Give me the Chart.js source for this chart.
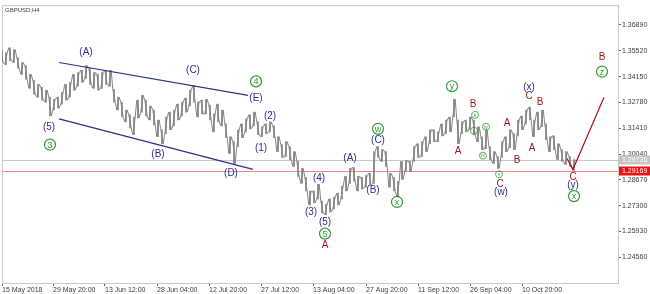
<!DOCTYPE html>
<html>
<head>
<meta charset="utf-8">
<script src="https://cdn.jsdelivr.net/npm/chart.js@4.4.1/dist/chart.umd.min.js"></script>
<style>
  html, body { margin: 0; padding: 0; background: #fff; }
  .wrap { width: 650px; height: 294px; position: relative; }
</style>
</head>
<body>
<div class="wrap"><canvas id="chart"></canvas></div>
<script>
// GBPUSD H4, one entry per traced bar (high / low)
const highs = [
  1.3553, 1.3542, 1.3568, 1.3558, 1.3516, 1.3490, 1.3474, 1.3427, 1.3395, 1.3374,
  1.3358, 1.3343, 1.3306, 1.3295, 1.3306, 1.3332, 1.3374, 1.3385, 1.3427, 1.3437,
  1.3448, 1.3474, 1.3458, 1.3437, 1.3427, 1.3437, 1.3448, 1.3448, 1.3348, 1.3306,
  1.3280, 1.3238, 1.3212, 1.3201, 1.3290, 1.3316, 1.3290, 1.3259, 1.3238, 1.3185,
  1.3133, 1.3201, 1.3227, 1.3238, 1.3269, 1.3280, 1.3301, 1.3343, 1.3369, 1.3280,
  1.3290, 1.3295, 1.3264, 1.3217, 1.3269, 1.3238, 1.3164, 1.3096, 1.3070, 1.3133,
  1.3164, 1.3191, 1.3212, 1.3227, 1.3175, 1.3149, 1.3164, 1.3175, 1.3154, 1.3096,
  1.3054, 1.3070, 1.3044, 1.3017, 1.2965, 1.2928, 1.2881, 1.2808, 1.2808, 1.2844,
  1.2755, 1.2739, 1.2766, 1.2776, 1.2797, 1.2834, 1.2886, 1.2928, 1.2933, 1.2886,
  1.2881, 1.2891, 1.2902, 1.3017, 1.3044, 1.3028, 1.3017, 1.2902, 1.2881, 1.2860,
  1.2965, 1.2970, 1.2965, 1.3044, 1.3059, 1.3070, 1.3096, 1.3133, 1.3133, 1.3122,
  1.3164, 1.3185, 1.3201, 1.3295, 1.3185, 1.3175, 1.3185, 1.3201, 1.3185, 1.3149,
  1.3096, 1.3133, 1.3044, 1.3017, 1.2991, 1.3070, 1.3096, 1.3133, 1.3112, 1.3185,
  1.3206, 1.3238, 1.3253, 1.3185, 1.3227, 1.3238, 1.3164, 1.3096, 1.3101, 1.3059,
  1.3028, 1.3017, 1.2991, 1.2975
];
const lows = [
  1.3490, 1.3479, 1.3500, 1.3490, 1.3458, 1.3427, 1.3400, 1.3353, 1.3322, 1.3306,
  1.3290, 1.3280, 1.3206, 1.3238, 1.3248, 1.3269, 1.3290, 1.3306, 1.3343, 1.3364,
  1.3385, 1.3406, 1.3374, 1.3353, 1.3343, 1.3353, 1.3374, 1.3364, 1.3280, 1.3238,
  1.3201, 1.3175, 1.3143, 1.3107, 1.3196, 1.3227, 1.3206, 1.3185, 1.3159, 1.3096,
  1.3059, 1.3112, 1.3133, 1.3154, 1.3185, 1.3206, 1.3227, 1.3259, 1.3280, 1.3201,
  1.3217, 1.3217, 1.3185, 1.3122, 1.3175, 1.3154, 1.3091, 1.3007, 1.2954, 1.3044,
  1.3091, 1.3122, 1.3138, 1.3154, 1.3107, 1.3096, 1.3112, 1.3122, 1.3091, 1.3017,
  1.2986, 1.2991, 1.2975, 1.2939, 1.2886, 1.2849, 1.2808, 1.2734, 1.2745, 1.2766,
  1.2692, 1.2682, 1.2697, 1.2713, 1.2734, 1.2766, 1.2808, 1.2849, 1.2860, 1.2808,
  1.2818, 1.2828, 1.2839, 1.2849, 1.2986, 1.2965, 1.2939, 1.2828, 1.2808, 1.2776,
  1.2870, 1.2912, 1.2912, 1.2965, 1.2986, 1.2991, 1.3017, 1.3059, 1.3070, 1.3070,
  1.3101, 1.3112, 1.3122, 1.3201, 1.3059, 1.3112, 1.3122, 1.3133, 1.3107, 1.3070,
  1.3028, 1.3033, 1.2975, 1.2954, 1.2928, 1.2986, 1.3017, 1.3038, 1.3028, 1.3101,
  1.3133, 1.3164, 1.3185, 1.3096, 1.3133, 1.3149, 1.3080, 1.3017, 1.3028, 1.2975,
  1.2965, 1.2949, 1.2939, 1.2918
];

const dateTicks = [0, 12.75, 25.75, 38.75, 51.75, 64.75, 77.75, 91, 104, 117, 130];
const dateLabels = ['15 May 2018', '29 May 20:00', '13 Jun 12:00', '28 Jun 04:00', '12 Jul 20:00',
  '27 Jul 12:00', '13 Aug 04:00', '27 Aug 20:00', '11 Sep 12:00', '26 Sep 04:00', '10 Oct 20:00'];
const priceTicks = [1.24560, 1.25930, 1.27300, 1.28670, 1.30040, 1.31410, 1.32780, 1.34150, 1.35520, 1.36890];

const bidPrice = 1.29169;
const refPrice = 1.29736;

// wave drawing (bar index, price)
const channelTop = [[14.25, 1.3490], [61.5, 1.3316]];
const channelBottom = [[14.25, 1.3191], [62.75, 1.2923]];
const projection = [[141.25, 1.2981], [142.75, 1.2923], [150.5, 1.3306]];

// wave labels: [bar index, price, text, kind]
const waveLabels = [
  [21, 1.3547, '(A)', 'blue'], [47.75, 1.3448, '(C)', 'blue'], [63.5, 1.3390, '4', 'g'],
  [63.5, 1.3301, '(E)', 'blue'], [67, 1.3206, '(2)', 'blue'], [64.75, 1.3033, '(1)', 'blue'],
  [11.75, 1.3149, '(5)', 'blue'], [12, 1.3054, '3', 'g'], [39, 1.3002, '(B)', 'blue'],
  [57.25, 1.2902, '(D)', 'blue'], [77.25, 1.2697, '(3)', 'blue'], [79.25, 1.2876, '(4)', 'blue'],
  [80.75, 1.2640, '(5)', 'blue'], [80.75, 1.2582, '5', 'g'], [80.75, 1.2519, 'A', 'red'],
  [87, 1.2981, '(A)', 'blue'], [92.75, 1.2813, '(B)', 'blue'], [94, 1.3075, '(C)', 'blue'],
  [94, 1.3138, 'w', 'g'], [98.75, 1.2750, 'x', 'g'], [112.5, 1.3364, 'y', 'g'],
  [114, 1.3017, 'A', 'red'], [117.75, 1.3269, 'B', 'red'], [118.25, 1.3212, 'ii', 'gs'],
  [118, 1.3128, 'i', 'gs'], [121, 1.3149, 'iv', 'gs'], [120.25, 1.2996, 'iii', 'gs'],
  [124.25, 1.2897, 'v', 'gs'], [124.5, 1.2844, 'C', 'red'], [124.75, 1.2802, '(w)', 'blue'],
  [126.25, 1.3170, 'A', 'red'], [128.75, 1.2970, 'B', 'red'], [131.75, 1.3358, '(x)', 'blue'],
  [131.75, 1.3311, 'C', 'red'], [134.5, 1.3280, 'B', 'red'], [132.5, 1.3033, 'A', 'red'],
  [142.75, 1.2881, 'C', 'red'], [142.75, 1.2839, '(y)', 'blue'], [143, 1.2781, 'x', 'g'],
  [150, 1.3516, 'B', 'red'], [150, 1.3442, 'z', 'g']
];

const BLUE = '#2e2e8e';
const RED = '#a3161a';
const GREEN = '#2f9a35';
const BARS = '#858585';

const toXY = pts => pts.map(p => ({ x: p[0], y: p[1] }));

// zigzag through each bar's range so the band gets a wick texture
const zigzag = [];
highs.forEach((h, i) => {
  const a = i % 2 ? lows[i] : h;
  const b = i % 2 ? h : lows[i];
  zigzag.push({ x: i - 0.3, y: a }, { x: i + 0.3, y: b });
});

const decor = {
  id: 'decor',
  beforeDatasetsDraw(chart) {
    const { ctx, chartArea: a, scales: { y } } = chart;
    ctx.save();
    ctx.strokeStyle = '#c8c8c8';
    ctx.lineWidth = 1;
    ctx.strokeRect(a.left + 0.5, a.top + 0.5, a.right - a.left, a.bottom - a.top);
    const gy = Math.round(y.getPixelForValue(refPrice)) + 0.5;
    ctx.beginPath(); ctx.moveTo(a.left, gy); ctx.lineTo(a.right, gy); ctx.stroke();
    const ry = Math.round(y.getPixelForValue(bidPrice)) + 0.5;
    ctx.strokeStyle = '#f08a8a';
    ctx.beginPath(); ctx.moveTo(a.left, ry); ctx.lineTo(a.right, ry); ctx.stroke();
    ctx.restore();
  },
  afterDraw(chart) {
    const { ctx, chartArea: a, scales: { x, y } } = chart;
    ctx.save();
    ctx.textAlign = 'center';
    ctx.textBaseline = 'middle';
    waveLabels.forEach(([i, p, t, kind]) => {
      const px = x.getPixelForValue(i), py = y.getPixelForValue(p);
      if (kind === 'blue' || kind === 'red') {
        ctx.font = '10px "Liberation Sans", Arial, sans-serif';
        ctx.fillStyle = kind === 'blue' ? BLUE : RED;
        ctx.fillText(t, px, py);
      } else {
        const r = kind === 'g' ? 5.5 : 3.5;
        ctx.strokeStyle = GREEN;
        ctx.lineWidth = kind === 'g' ? 1.2 : 0.8;
        ctx.beginPath(); ctx.arc(px, py, r, 0, Math.PI * 2); ctx.stroke();
        ctx.fillStyle = GREEN;
        ctx.font = (kind === 'g' ? '9px' : '5px') + ' "Liberation Sans", Arial, sans-serif';
        ctx.fillText(t, px, py + 0.5);
      }
    });
    // title
    ctx.textAlign = 'left';
    ctx.fillStyle = '#404040';
    ctx.font = '6px "Liberation Sans", Arial, sans-serif';
    ctx.fillText('GBPUSD,H4', a.left + 3, a.top + 5);
    // price tags
    const tag = (price, bg) => {
      const ty = Math.round(y.getPixelForValue(price));
      ctx.fillStyle = bg;
      ctx.fillRect(a.right + 1, ty - 4.5, 31, 9);
      ctx.fillStyle = '#fff';
      ctx.font = '7px "Liberation Sans", Arial, sans-serif';
      ctx.fillText(price.toFixed(5), a.right + 4, ty + 0.5);
    };
    tag(refPrice, '#c4c4c4');
    tag(bidPrice, '#f01010');
    ctx.restore();
  }
};

new Chart(document.getElementById('chart'), {
  type: 'bar',
  data: {
    datasets: [
      {
        type: 'bar',
        data: highs.map((h, i) => ({ x: i, y: [lows[i], h] })),
        backgroundColor: BARS,
        barThickness: 1,
        order: 3
      },
      {
        type: 'line', data: zigzag, borderColor: BARS, borderWidth: 1,
        pointRadius: 0, order: 2
      },
      {
        type: 'line', data: toXY(channelTop), borderColor: BLUE, borderWidth: 1.2,
        pointRadius: 0, order: 1
      },
      {
        type: 'line', data: toXY(channelBottom), borderColor: BLUE, borderWidth: 1.2,
        pointRadius: 0, order: 1
      },
      {
        type: 'line', data: toXY(projection), borderColor: RED, borderWidth: 1.2,
        pointRadius: 0, order: 1
      }
    ]
  },
  options: {
    responsive: true,
    maintainAspectRatio: false,
    animation: false,
    layout: { padding: { left: 2, top: 1, right: 0, bottom: 0 } },
    plugins: { legend: { display: false }, tooltip: { enabled: false } },
    scales: {
      x: {
        type: 'linear',
        offset: false,
        min: 0,
        max: 154,
        afterBuildTicks: s => { s.ticks = dateTicks.map(v => ({ value: v })); },
        afterFit: s => { s.height = 11; },
        grid: { offset: false, drawOnChartArea: false, tickLength: 3, color: '#606060' },
        border: { color: '#606060' },
        ticks: {
          autoSkip: false, maxRotation: 0, align: 'start', padding: 0,
          color: '#404040', font: { size: 7, family: '"Liberation Sans", Arial, sans-serif' },
          callback: (v, i) => dateLabels[i]
        }
      },
      y: {
        position: 'right',
        min: 1.2320,
        max: 1.3794,
        afterBuildTicks: s => { s.ticks = priceTicks.map(v => ({ value: v })); },
        afterFit: s => { s.width = 32; },
        grid: { drawOnChartArea: false, tickLength: 3, color: '#606060' },
        border: { color: '#606060' },
        ticks: {
          padding: 1, color: '#404040',
          font: { size: 7, family: '"Liberation Sans", Arial, sans-serif' },
          callback: v => v.toFixed(5)
        }
      }
    }
  },
  plugins: [decor]
});
</script>
</body>
</html>
